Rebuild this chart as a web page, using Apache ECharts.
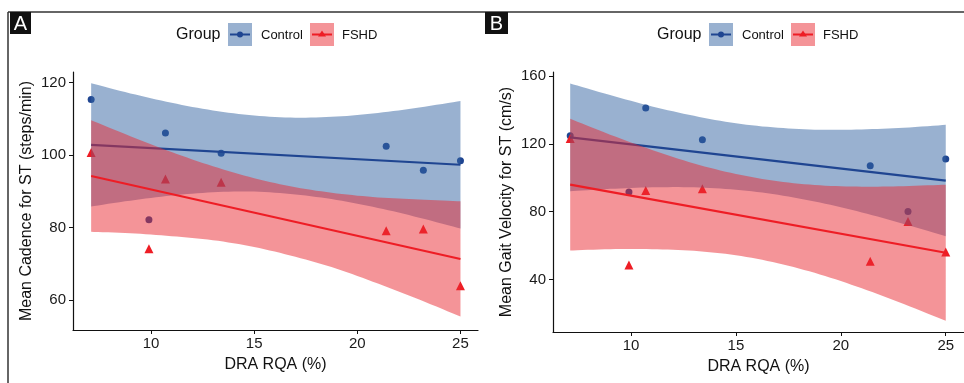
<!DOCTYPE html>
<html>
<head>
<meta charset="utf-8">
<script src="https://cdn.jsdelivr.net/npm/echarts@6.0.0/dist/echarts.min.js"></script>
<style>
  html, body { margin: 0; padding: 0; background: #fff; }
  #chart { width: 964px; height: 383px; }
</style>
</head>
<body>
<div id="chart"></div>
<script>
// DRA RQA (%) of each subject, same for both groups
const dra = [7.1, 9.9, 10.7, 13.4, 21.4, 23.2, 25.0];

// panel A: mean cadence (steps/min)
const cadenceControl = [115.3, 82.1, 106.1, 100.5, 102.4, 95.8, 98.4];
const cadenceFSHD = [100.7, 74.1, 93.4, 92.5, 79.1, 79.6, 63.9];
// panel B: mean gait velocity (cm/s)
const velocityControl = [124.9, 91.7, 141.2, 122.5, 107.2, 80.2, 111.2];
const velocityFSHD = [123.3, 48.5, 92.5, 93.5, 50.7, 74.2, 56.2];

// fitted lines (ends)
const fitX = [7.1, 25];
const fitCadenceControl = [102.8, 97.3];
const fitCadenceFSHD = [94.2, 71.3];
const fitVelocityControl = [123.9, 98.4];
const fitVelocityFSHD = [96.0, 55.8];

// confidence bands
const bandX = [7.1, 9, 11, 13, 15, 17, 19, 21, 23, 25];
const cadCtrlUpper = [119.8, 117.0, 114.4, 112.3, 110.9, 110.3, 110.6, 111.6, 113.1, 114.9];
const cadCtrlLower = [85.8, 87.4, 88.8, 89.7, 89.9, 89.1, 87.6, 85.4, 82.7, 79.7];
const cadFshdUpper = [109.6, 105.2, 100.8, 96.9, 93.6, 91.1, 89.4, 88.3, 87.7, 87.2];
const cadFshdLower = [78.8, 78.4, 77.6, 76.5, 74.6, 71.9, 68.6, 64.5, 60.1, 55.4];
const velCtrlUpper = [155.7, 148.9, 142.2, 136.6, 132.2, 129.6, 128.4, 128.6, 129.6, 131.3];
const velCtrlLower = [92.1, 93.5, 94.4, 94.4, 93.0, 90.0, 85.4, 79.6, 72.8, 65.5];
const velFshdUpper = [134.9, 125.5, 116.5, 108.5, 102.3, 98.0, 95.6, 94.8, 95.1, 96.0];
const velFshdLower = [57.1, 57.9, 57.9, 56.9, 54.3, 49.6, 43.0, 34.8, 25.5, 15.6];

// axis ticks
const xTicks = [10, 15, 20, 25];
const cadenceTicks = [60, 80, 100, 120];
const velocityTicks = [40, 80, 120, 160];

const groups = ['Control', 'FSHD'];

const ctrlColor = '#1f4591';
const fshdColor = '#ee1d25';
const ctrlFill = 'rgba(52,100,162,0.5)';
const fshdFill = 'rgba(234,42,50,0.5)';
const font = '"Liberation Sans", Arial, sans-serif';

const chart = echarts.init(document.getElementById('chart'));

function pairs(xs, ys) {
  return xs.map((x, i) => [x, ys[i]]);
}

// smooth pixel curve through the given points (catmull-rom, sampled)
function smoothPts(p) {
  const out = [];
  for (let i = 0; i < p.length - 1; i++) {
    const p0 = p[Math.max(i - 1, 0)], p1 = p[i], p2 = p[i + 1], p3 = p[Math.min(i + 2, p.length - 1)];
    for (let s = 0; s < 8; s++) {
      const t = s / 8, t2 = t * t, t3 = t2 * t;
      out.push([0, 1].map(k => 0.5 * ((2 * p1[k]) + (-p0[k] + p2[k]) * t +
        (2 * p0[k] - 5 * p1[k] + 4 * p2[k] - p3[k]) * t2 +
        (-p0[k] + 3 * p1[k] - 3 * p2[k] + p3[k]) * t3)));
    }
  }
  out.push(p[p.length - 1]);
  return out;
}

function xAxisFor(idx, min, max) {
  return {
    type: 'value', gridIndex: idx, min: min, max: max,
    name: 'DRA RQA (%)', nameLocation: 'middle', nameGap: 27,
    nameTextStyle: { fontSize: 16, color: '#111', fontFamily: font },
    axisLine: { lineStyle: { color: '#111', width: 1.2 } },
    axisTick: { customValues: xTicks, length: 4, lineStyle: { color: '#111' } },
    axisLabel: { customValues: xTicks, fontSize: 15, color: '#1a1a1a', margin: 6, fontFamily: font },
    splitLine: { show: false }
  };
}

function yAxisFor(idx, min, max, ticks, title) {
  return {
    type: 'value', gridIndex: idx, min: min, max: max,
    name: title, nameLocation: 'middle', nameGap: 38,
    nameTextStyle: { fontSize: 16, color: '#111', fontFamily: font },
    axisLine: { show: true, lineStyle: { color: '#111', width: 1.2 } },
    axisTick: { show: true, customValues: ticks, length: 4, lineStyle: { color: '#111' } },
    axisLabel: { customValues: ticks, fontSize: 15, color: '#1a1a1a', margin: 7, fontFamily: font },
    splitLine: { show: false }
  };
}

// one panel: points under bands, band then line for each group
function panelSeries(idx, ctrlY, fshdY, fitC, fitF, cUp, cLo, fUp, fLo) {
  const base = { xAxisIndex: idx, yAxisIndex: idx, silent: true, animation: false };
  const band = (up, lo, fill, z) => Object.assign({}, base, {
    type: 'custom', z: z,
    data: [[bandX[0], up[0]]],
    renderItem: function (params, api) {
      const top = smoothPts(bandX.map((x, i) => api.coord([x, up[i]])));
      const bot = smoothPts(bandX.map((x, i) => api.coord([x, lo[i]]))).reverse();
      return { type: 'polygon', shape: { points: top.concat(bot) }, style: { fill: fill } };
    }
  });
  const fit = (y, color, z) => Object.assign({}, base, {
    type: 'line', symbol: 'none', data: pairs(fitX, y),
    lineStyle: { color: color, width: 2.2 }, z: z
  });
  return [
    Object.assign({}, base, {
      type: 'scatter', name: groups[0], symbol: 'circle', symbolSize: 7,
      itemStyle: { color: ctrlColor, opacity: 1 }, data: pairs(dra, ctrlY), z: 2
    }),
    Object.assign({}, base, {
      type: 'scatter', name: groups[1], symbol: 'triangle', symbolSize: 9,
      itemStyle: { color: fshdColor, opacity: 1 }, data: pairs(dra, fshdY), z: 2
    }),
    band(cUp, cLo, ctrlFill, 3),
    fit(fitC, ctrlColor, 4),
    band(fUp, fLo, fshdFill, 5),
    fit(fitF, fshdColor, 6)
  ];
}

function legendGroup(x0) {
  const els = [];
  els.push({ type: 'text', x: x0, y: 35, style: { text: 'Group', font: '16px ' + font, fill: '#111', verticalAlign: 'middle' } });
  const keys = [
    { dx: 52, tx: 85, fill: ctrlFill, color: ctrlColor, sym: 'circle', label: groups[0] },
    { dx: 134, tx: 166, fill: fshdFill, color: fshdColor, sym: 'triangle', label: groups[1] }
  ];
  keys.forEach(k => {
    const kx = x0 + k.dx;
    els.push({ type: 'rect', shape: { x: kx, y: 23, width: 24, height: 23 }, style: { fill: k.fill } });
    els.push({ type: 'line', shape: { x1: kx + 2, y1: 34.5, x2: kx + 22, y2: 34.5 }, style: { stroke: k.color, lineWidth: 2 } });
    if (k.sym === 'circle') {
      els.push({ type: 'circle', shape: { cx: kx + 12, cy: 34.5, r: 3 }, style: { fill: k.color } });
    } else {
      els.push({ type: 'polygon', shape: { points: [[kx + 12, 30.5], [kx + 16, 36.5], [kx + 8, 36.5]] }, style: { fill: k.color } });
    }
    els.push({ type: 'text', x: x0 + k.tx, y: 35, style: { text: k.label, font: '13px ' + font, fill: '#111', verticalAlign: 'middle' } });
  });
  return els;
}

function panelTag(x, w, letter) {
  return [
    { type: 'rect', shape: { x: x, y: 12, width: w, height: 22 }, style: { fill: '#111' } },
    { type: 'text', x: x + w / 2, y: 24, style: { text: letter, font: '20px ' + font, fill: '#fff', align: 'center', verticalAlign: 'middle' } }
  ];
}

const option = {
  animation: false,
  backgroundColor: '#fff',
  grid: [
    { left: 73, top: 72, width: 405, height: 258 },
    { left: 553, top: 72, width: 411, height: 260 }
  ],
  xAxis: [xAxisFor(0, 6.22, 25.85), xAxisFor(1, 6.28, 25.87)],
  yAxis: [
    yAxisFor(0, 51.7, 122.9, cadenceTicks, 'Mean Cadence for ST (steps/min)'),
    yAxisFor(1, 9, 162.5, velocityTicks, 'Mean Gait Velocity for ST (cm/s)')
  ],
  series: [
    ...panelSeries(0, cadenceControl, cadenceFSHD, fitCadenceControl, fitCadenceFSHD,
      cadCtrlUpper, cadCtrlLower, cadFshdUpper, cadFshdLower),
    ...panelSeries(1, velocityControl, velocityFSHD, fitVelocityControl, fitVelocityFSHD,
      velCtrlUpper, velCtrlLower, velFshdUpper, velFshdLower)
  ],
  graphic: [
    { type: 'line', shape: { x1: 8, y1: 12, x2: 964, y2: 12 }, style: { stroke: '#333', lineWidth: 1.5 } },
    { type: 'line', shape: { x1: 8, y1: 12, x2: 8, y2: 383 }, style: { stroke: '#333', lineWidth: 1.5 } },
    ...panelTag(10, 21, 'A'),
    ...panelTag(485, 23, 'B'),
    ...legendGroup(176),
    ...legendGroup(657)
  ]
};

chart.setOption(option);
</script>
</body>
</html>
